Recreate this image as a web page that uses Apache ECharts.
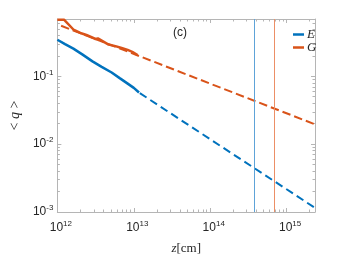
<!DOCTYPE html>
<html>
<head>
<meta charset="utf-8">
<script src="https://cdn.jsdelivr.net/npm/echarts@6/dist/echarts.min.js"></script>
<style>html,body{margin:0;padding:0;background:#fff}#c{width:347px;height:260px}</style>
</head>
<body>
<div id="c"></div>
<script>
// ---- data ----
const xMin = 1e12, xMax = 2.35e15;
const yMin = 1e-3, yMax = 0.7;
const xTickExps = [12, 13, 14, 15];
const yTickExps = [-3, -2, -1];

const eSolidX = [1e12, 1.26e12, 1.62e12, 2.14e12, 2.88e12, 3.8e12, 5.13e12, 6.61e12, 8.32e12, 1e13, 1.17e13];
const eSolidY = [0.346, 0.2985, 0.256, 0.209, 0.166, 0.138, 0.1138, 0.0933, 0.078, 0.0676, 0.0577];
const eFitX = [1.2e13, 2.35e15];
const eFitY = [0.0565, 0.00115];

const gSolidX = [1e12, 1.23e12, 1.62e12, 2.0e12, 2.4e12, 3.16e12, 3.39e12, 3.55e12, 4.68e12, 5.75e12, 6.92e12, 8.32e12, 9.55e12, 1.12e13];
const gSolidY = [0.68, 0.68, 0.49, 0.436, 0.407, 0.355, 0.362, 0.343, 0.294, 0.279, 0.262, 0.245, 0.230, 0.206];
const gFitX = [1.12e12, 2.35e15];
const gFitY = [0.557, 0.0196];

const eMarkX = 3.8e14;
const gMarkX = 6.9e14;

const blue = '#0072BD', orange = '#D95319';
const axisCol = '#b5b5b5', textCol = '#262626';

function pairs(xs, ys) { return xs.map((x, i) => [x, ys[i]]); }
function minorExps(lo, hi, maxLog) {
  const out = [];
  for (let n = lo; n <= hi; n++) for (let k = 2; k <= 9; k++) {
    const v = n + Math.log10(k);
    if (v < maxLog - 1e-6) out.push(v);
  }
  return out;
}
const xMinor = minorExps(12, 15, Math.log10(xMax));
const yMinor = minorExps(-3, -1, Math.log10(yMax));

function isDecade(v) { const e = Math.log10(v); return Math.abs(e - Math.round(e)) < 1e-6; }
function fmtX(v) { if (!isDecade(v)) return ''; const e = Math.round(Math.log10(v)); return xTickExps.includes(e) ? '{p|}{b|10}{s|' + e + '}' : ''; }
function fmtY(v) { if (!isDecade(v)) return ''; const e = Math.round(Math.log10(v)); return yTickExps.includes(e) ? '{b|10}{s|' + e + '}' : ''; }

const richLab = {
  p: { width: 7 },
  b: { fontSize: 12, color: textCol, fontFamily: 'Liberation Sans' },
  s: { fontSize: 8, color: textCol, fontFamily: 'Liberation Sans', padding: [0, 0, 8, 0] }
};

const chart = echarts.init(document.getElementById('c'), null, { renderer: 'canvas' });

function logX(pos, labels) {
  return {
    type: 'log', logBase: 10, min: xMin, max: xMax, position: pos, gridIndex: 0,
    axisLine: { show: true, lineStyle: { color: axisCol, width: 1 } },
    axisTick: { show: true, inside: true, length: 4, lineStyle: { color: axisCol } },
    splitLine: { show: false },
    axisLabel: labels ? { show: true, formatter: fmtX, rich: richLab, margin: 8, showMinLabel: true, showMaxLabel: true, hideOverlap: false } : { show: false }
  };
}
function logY(pos, labels) {
  return {
    type: 'log', logBase: 10, min: yMin, max: yMax, position: pos, gridIndex: 0,
    axisLine: { show: true, lineStyle: { color: axisCol, width: 1 } },
    axisTick: { show: true, inside: true, length: 4, lineStyle: { color: axisCol } },
    splitLine: { show: false },
    axisLabel: labels ? { show: true, formatter: fmtY, rich: richLab, margin: 4, showMinLabel: true, showMaxLabel: true, hideOverlap: false } : { show: false }
  };
}
function minorX(pos) {
  return {
    type: 'value', min: 12, max: Math.log10(xMax), position: pos, gridIndex: 0,
    axisLine: { show: false }, splitLine: { show: false }, axisLabel: { show: false },
    axisTick: { show: true, inside: true, length: 2.5, customValues: xMinor, lineStyle: { color: axisCol } }
  };
}
function minorY(pos) {
  return {
    type: 'value', min: -3, max: Math.log10(yMax), position: pos, gridIndex: 0,
    axisLine: { show: false }, splitLine: { show: false }, axisLabel: { show: false },
    axisTick: { show: true, inside: true, length: 2.5, customValues: yMinor, lineStyle: { color: axisCol } }
  };
}

const xA0 = logX('bottom', true);
xA0.name = '{i|z}{r|[cm]}';
xA0.nameLocation = 'middle';
xA0.nameGap = 30;
xA0.nameTextStyle = { rich: {
  i: { fontFamily: 'Liberation Serif', fontStyle: 'italic', fontSize: 13, color: textCol },
  r: { fontFamily: 'Liberation Serif', fontSize: 13, color: textCol } } };
const yA0 = logY('left', true);
yA0.name = '{r|< }{i|q}{r| >}';
yA0.nameLocation = 'middle';
yA0.nameRotate = 90;
yA0.nameGap = 33;
yA0.nameTextStyle = { rich: {
  i: { fontFamily: 'Liberation Serif', fontStyle: 'italic', fontSize: 14, color: textCol },
  r: { fontFamily: 'Liberation Serif', fontSize: 14, color: textCol } } };

const option = {
  animation: false,
  backgroundColor: '#fff',
  grid: { left: 45, right: 32, top: 19, bottom: 39, containLabel: false },
  xAxis: [xA0, logX('top', false), minorX('bottom'), minorX('top')],
  yAxis: [yA0, logY('right', false), minorY('left'), minorY('right')],
  legend: {
    data: ['E', 'G'], orient: 'vertical', left: 288, top: 23, icon: 'rect',
    itemWidth: 11, itemHeight: 2.5, itemGap: 0,
    textStyle: { fontFamily: 'Liberation Serif', fontStyle: 'italic', fontSize: 13, lineHeight: 13, color: textCol, padding: [0, 0, 0, -2] }
  },
  graphic: [{
    type: 'text', x: 180, y: 33,
    style: { text: '(c)', fontFamily: 'Liberation Sans', fontSize: 12, fill: textCol, align: 'center', verticalAlign: 'middle' }
  }],
  series: [
    { name: 'E-fit', type: 'line', xAxisIndex: 0, yAxisIndex: 0, data: pairs(eFitX, eFitY), showSymbol: false, symbol: 'none',
      lineStyle: { color: blue, width: 2, type: [8, 4.5], cap: 'butt' }, itemStyle: { color: blue }, z: 2,
      markLine: { silent: true, symbol: 'none', label: { show: false }, lineStyle: { color: '#5ea3d8', width: 1, type: 'solid' }, data: [{ xAxis: eMarkX }] } },
    { name: 'G-fit', type: 'line', xAxisIndex: 0, yAxisIndex: 0, data: pairs(gFitX, gFitY), showSymbol: false, symbol: 'none',
      lineStyle: { color: orange, width: 2, type: [8.5, 4], cap: 'butt' }, itemStyle: { color: orange }, z: 2,
      markLine: { silent: true, symbol: 'none', label: { show: false }, lineStyle: { color: '#ec8f66', width: 1, type: 'solid' }, data: [{ xAxis: gMarkX }] } },
    { name: 'E', type: 'line', xAxisIndex: 0, yAxisIndex: 0, data: pairs(eSolidX, eSolidY), showSymbol: false, symbol: 'none',
      lineStyle: { color: blue, width: 2.5 }, itemStyle: { color: blue }, z: 3 },
    { name: 'G', type: 'line', xAxisIndex: 0, yAxisIndex: 0, data: pairs(gSolidX, gSolidY), showSymbol: false, symbol: 'none',
      lineStyle: { color: orange, width: 2.5 }, itemStyle: { color: orange }, z: 3 }
  ]
};
chart.setOption(option);
</script>
</body>
</html>
